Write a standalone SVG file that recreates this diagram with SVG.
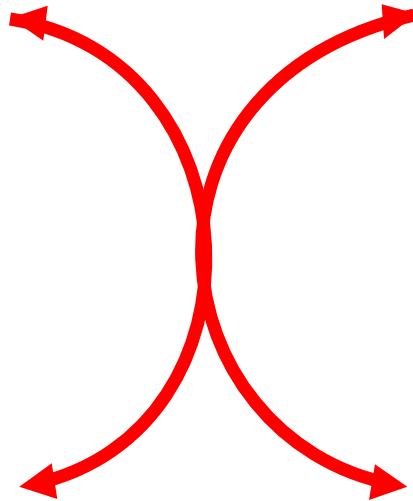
<svg xmlns="http://www.w3.org/2000/svg" width="413" height="501" viewBox="0 0 413 501">
<style>
.arc{fill:none;stroke:#ff0000;stroke-width:13;stroke-linecap:butt}
.head{fill:#ff0000;stroke:none}
</style>
<rect width="413" height="501" fill="#ffffff"/>
<g id="connectors">
<g id="left-arc">
<path class="arc" d="M10,19 C259.9,56.73 273.54,431.56 33.98,484.19"/>
<polygon class="head" points="10.5,18 47.7,5.7 43.3,40.7"/>
<polygon class="head" points="19.3,486.7 51.7,463.3 57.3,499"/>
</g>
<g id="right-arc">
<path class="arc" d="M414,15 C108.8,85.85 160.25,439.74 392.85,484.36"/>
<polygon class="head" points="416.9,13.7 381.7,4.3 384,39"/>
<polygon class="head" points="407.3,486.7 375,464.3 369,500"/>
</g>
</g>
</svg>
